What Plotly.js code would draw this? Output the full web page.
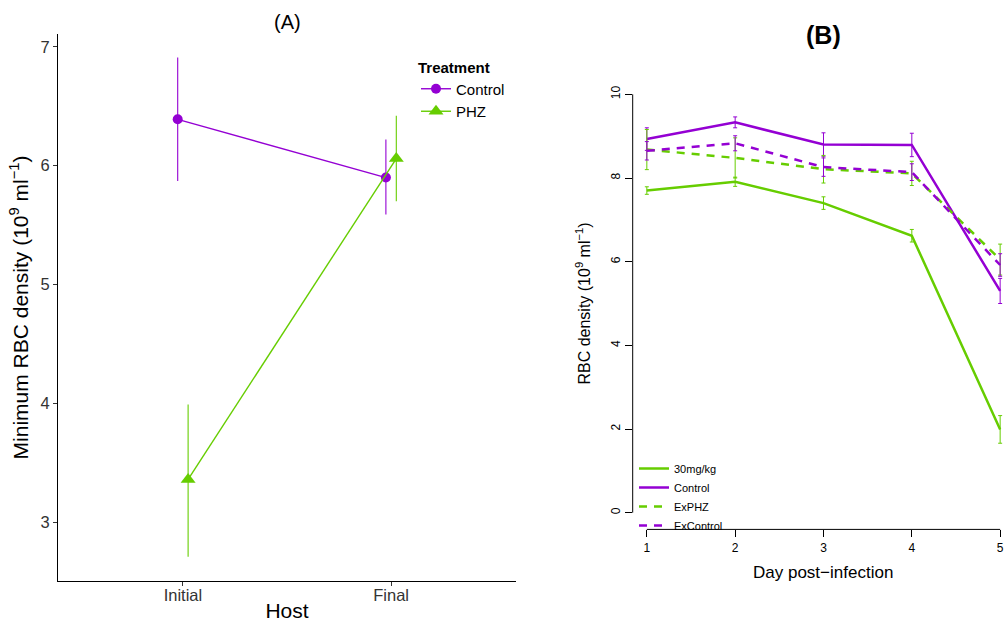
<!DOCTYPE html>
<html>
<head>
<meta charset="utf-8">
<script src="https://cdn.plot.ly/plotly-3.0.1.min.js"></script>
<style>html,body{margin:0;padding:0;background:#fff;}#chart{width:1006px;height:625px;}</style>
</head>
<body>
<div id="chart"></div>
<script>
// ---------- Panel A data ----------
const hosts = ['Initial', 'Final'];
const controlMin = [6.39, 5.90];
const controlErrHi = [6.91, 6.22];
const controlErrLo = [5.87, 5.59];
const phzMin = [3.36, 6.06];
const phzErrHi = [3.99, 6.42];
const phzErrLo = [2.71, 5.70];

// ---------- Panel B data ----------
const days = [1, 2, 3, 4, 5];
const dose30 = [7.70, 7.91, 7.40, 6.62, 1.99];
const dose30Err = [0.09, 0.11, 0.15, 0.15, 0.33];
const controlB = [8.93, 9.33, 8.80, 8.79, 5.30];
const controlBErr = [0.27, 0.13, 0.28, 0.28, 0.30];
const exPHZ = [8.68, 8.48, 8.21, 8.11, 6.05];
const exPHZErr = [0.48, 0.48, 0.33, 0.29, 0.37];
const exControl = [8.65, 8.83, 8.26, 8.14, 5.92];
const exControlErr = [0.22, 0.18, 0.22, 0.20, 0.27];

const PURPLE = '#9400D3';
const GREEN = '#66CD00';
const FONT = 'Liberation Sans, Arial, Helvetica, sans-serif';

const hostIdx = hosts.map((h, i) => i + 1);
const dodge = 0.025;

const traces = [
  {
    x: hostIdx.map(v => v - dodge), y: controlMin, name: 'Control',
    type: 'scatter', mode: 'lines+markers', xaxis: 'x', yaxis: 'y',
    line: {color: PURPLE, width: 1.4},
    marker: {color: PURPLE, symbol: 'circle', size: 10},
    error_y: {type: 'data', symmetric: false,
      array: controlErrHi.map((v, i) => v - controlMin[i]),
      arrayminus: controlMin.map((v, i) => v - controlErrLo[i]),
      color: PURPLE, thickness: 1.1, width: 0},
    legend: 'legend'
  },
  {
    x: hostIdx.map(v => v + dodge), y: phzMin, name: 'PHZ',
    type: 'scatter', mode: 'lines+markers', xaxis: 'x', yaxis: 'y',
    line: {color: GREEN, width: 1.4},
    marker: {color: GREEN, symbol: 'triangle-up', size: 13},
    error_y: {type: 'data', symmetric: false,
      array: phzErrHi.map((v, i) => v - phzMin[i]),
      arrayminus: phzMin.map((v, i) => v - phzErrLo[i]),
      color: GREEN, thickness: 1.1, width: 0},
    legend: 'legend'
  },
  {
    x: days, y: dose30, name: '30mg/kg', type: 'scatter', mode: 'lines',
    xaxis: 'x2', yaxis: 'y2', legend: 'legend2',
    line: {color: GREEN, width: 2.5},
    error_y: {type: 'data', array: dose30Err, color: GREEN, thickness: 1, width: 2}
  },
  {
    x: days, y: controlB, name: 'Control', type: 'scatter', mode: 'lines',
    xaxis: 'x2', yaxis: 'y2', legend: 'legend2',
    line: {color: PURPLE, width: 2.5},
    error_y: {type: 'data', array: controlBErr, color: PURPLE, thickness: 1, width: 2}
  },
  {
    x: days, y: exPHZ, name: 'ExPHZ', type: 'scatter', mode: 'lines',
    xaxis: 'x2', yaxis: 'y2', legend: 'legend2',
    line: {color: GREEN, width: 2.5, dash: '8px,7px'},
    error_y: {type: 'data', array: exPHZErr, color: GREEN, thickness: 1, width: 2}
  },
  {
    x: days, y: exControl, name: 'ExControl', type: 'scatter', mode: 'lines',
    xaxis: 'x2', yaxis: 'y2', legend: 'legend2',
    line: {color: PURPLE, width: 2.5, dash: '8px,7px'},
    error_y: {type: 'data', array: exControlErr, color: PURPLE, thickness: 1, width: 2}
  }
];

const W = 1006, H = 625;
const px = v => v / W;
const py = v => 1 - v / H;

const layout = {
  width: W, height: H,
  margin: {l: 0, r: 0, t: 0, b: 0},
  paper_bgcolor: '#fff', plot_bgcolor: 'rgba(0,0,0,0)',
  font: {family: FONT, color: '#000'},
  showlegend: true,
  xaxis: {
    domain: [px(58), px(516)], anchor: 'y',
    range: [0.4, 2.6], tickmode: 'array', tickvals: hostIdx, ticktext: hosts,
    showgrid: false, zeroline: false, showline: true, linecolor: '#000', linewidth: 1,
    ticks: 'outside', ticklen: 4, tickcolor: '#333', tickwidth: 1, ticklabelstandoff: -5,
    tickfont: {size: 16.5, color: '#333', family: FONT},
    title: {text: 'Host', font: {size: 21, family: FONT}, standoff: 0}
  },
  yaxis: {
    domain: [py(581), py(34)], anchor: 'x',
    range: [2.505, 7.108], tickvals: [3, 4, 5, 6, 7],
    showgrid: false, zeroline: false, showline: true, linecolor: '#000', linewidth: 1,
    ticks: 'outside', ticklen: 4, tickcolor: '#333', tickwidth: 1,
    tickfont: {size: 16.5, color: '#333', family: FONT},
    title: {text: 'Minimum RBC density (10<sup>9</sup> ml<sup>\u22121</sup>)', font: {size: 21, family: FONT}, standoff: 6}
  },
  xaxis2: {
    domain: [px(632.7), 1], anchor: 'y2',
    range: [0.84, 0.84 + (1006 - 632.7) / 88.33], tickvals: days,
    showgrid: false, zeroline: false, showline: false,
    ticks: 'outside', ticklen: 7, tickcolor: '#000', tickwidth: 1,
    tickfont: {size: 12, color: '#000', family: FONT}
  },
  yaxis2: {
    domain: [py(529.4), py(77.6)], anchor: 'x2',
    range: [-0.4, 10.4], tickvals: [0, 2, 4, 6, 8, 10], tickangle: -90,
    showgrid: false, zeroline: false, showline: false,
    ticks: 'outside', ticklen: 7, tickcolor: '#000', tickwidth: 1,
    tickfont: {size: 12, color: '#000', family: FONT},
    title: {text: 'RBC density (10<sup>9</sup> ml<sup>\u22121</sup>)', font: {size: 16, family: FONT}, standoff: 14}
  },
  legend: {
    x: px(416), y: py(53), xanchor: 'left', yanchor: 'top',
    bgcolor: 'rgba(0,0,0,0)', borderwidth: 0,
    title: {text: '<b>Treatment</b>', font: {size: 15, family: FONT}},
    font: {size: 15, family: FONT}, itemwidth: 30, tracegroupgap: 0
  },
  legend2: {
    x: px(634), y: py(454), xanchor: 'left', yanchor: 'top',
    bgcolor: 'rgba(0,0,0,0)', borderwidth: 0,
    font: {size: 11, family: FONT}, itemwidth: 30, tracegroupgap: 0
  },
  shapes: [
    {type: 'line', xref: 'x2', yref: 'y2 domain', x0: 1, x1: 5, y0: 0, y1: 0,
     line: {color: '#000', width: 1}},
    {type: 'line', xref: 'x2 domain', yref: 'y2', x0: 0, x1: 0, y0: 0, y1: 10,
     line: {color: '#000', width: 1}}
  ],
  annotations: [
    {text: '(A)', xref: 'paper', yref: 'paper', x: px(287), y: py(22), xanchor: 'center', yanchor: 'middle',
     showarrow: false, font: {size: 20, family: FONT}},
    {text: '<b>(B)</b>', xref: 'paper', yref: 'paper', x: px(823), y: py(35), xanchor: 'center', yanchor: 'middle',
     showarrow: false, font: {size: 25, family: FONT}},
    {text: 'Day post\u2212infection', xref: 'paper', yref: 'paper', x: px(823), y: py(572), xanchor: 'center', yanchor: 'middle',
     showarrow: false, font: {size: 17, family: FONT}}
  ]
};

Plotly.newPlot('chart', traces, layout, {displayModeBar: false, staticPlot: true});
</script>
</body>
</html>
